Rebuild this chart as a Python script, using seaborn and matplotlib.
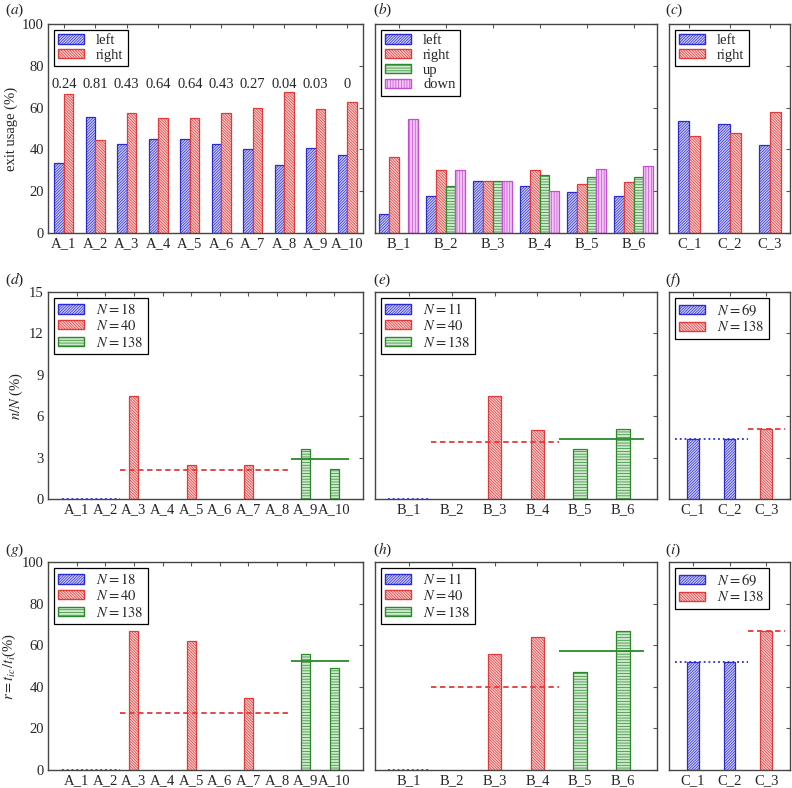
import numpy as np
import pandas as pd
import matplotlib
matplotlib.use('Agg')
import matplotlib.pyplot as plt
import seaborn as sns
from matplotlib.patches import Patch

sns.set_theme(style="white")
plt.rcParams['font.family'] = ['Liberation Serif', 'DejaVu Serif']
plt.rcParams['mathtext.fontset'] = 'stix'
plt.rcParams['hatch.linewidth'] = 0.5

# ---- data ----
cats_a = ['A_1', 'A_2', 'A_3', 'A_4', 'A_5', 'A_6', 'A_7', 'A_8', 'A_9', 'A_10']
cats_b = ['B_1', 'B_2', 'B_3', 'B_4', 'B_5', 'B_6']
cats_c = ['C_1', 'C_2', 'C_3']

# exit usage (%)
usage_a_left = [33.3, 55.6, 42.5, 45.0, 45.0, 42.5, 40.0, 32.5, 40.6, 37.5]
usage_a_right = [66.7, 44.4, 57.5, 55.0, 55.0, 57.5, 60.0, 67.5, 59.4, 62.5]
pvals_a = ['0.24', '0.81', '0.43', '0.64', '0.64', '0.43', '0.27', '0.04', '0.03', '0']

usage_b_left = [9.1, 17.6, 25.0, 22.4, 19.7, 17.6]
usage_b_right = [36.4, 30.1, 25.0, 30.1, 23.5, 24.2]
usage_b_up = [0.0, 22.4, 25.0, 27.7, 26.9, 26.9]
usage_b_down = [54.6, 30.1, 25.0, 20.0, 30.7, 32.0]

usage_c_left = [53.8, 52.3, 42.1]
usage_c_right = [46.2, 47.7, 57.9]

# group (crowd size) of every exit
groups_a = ['$N = 18$'] * 2 + ['$N = 40$'] * 6 + ['$N = 138$'] * 2
groups_b = ['$N = 11$'] + ['$N = 40$'] * 3 + ['$N = 138$'] * 2
groups_c = ['$N = 69$'] * 2 + ['$N = 138$']
levels_a = ['$N = 18$', '$N = 40$', '$N = 138$']
levels_b = ['$N = 11$', '$N = 40$', '$N = 138$']
levels_c = ['$N = 69$', '$N = 138$']

# n/N (%)
nN_a = [0, 0, 7.5, 0, 2.5, 0, 2.5, 0, 3.62, 2.17]
nN_b = [0, 0, 7.5, 5.0, 3.62, 5.07]
nN_c = [4.35, 4.35, 5.07]

# r = t_ic / t_i (%)
r_a = [0, 0, 66.7, 0, 61.8, 0, 34.8, 0, 55.8, 48.8]
r_b = [0, 0, 55.9, 64.0, 47.0, 67.0]
r_c = [51.7, 51.7, 66.9]

# ---- styles ----
STY = {
    'blue': dict(face='#cfcff6', edge='#2b2bd6', hatch='////////////', ls=':'),
    'red': dict(face='#f9d0d0', edge='#e23a3a', hatch='\\\\\\\\\\\\\\\\\\\\\\\\', ls='--'),
    'green': dict(face='#cfe8cf', edge='#2a8a2a', hatch='------', ls='-'),
    'magenta': dict(face='#f3c6f3', edge='#c24fd2', hatch='||||||', ls='-'),
}
FS = 10.5


def style_axes(ax, ylim, yticks, show_ylabels):
    ax.set_ylim(*ylim)
    ax.set_yticks(yticks)
    ax.tick_params(direction='in', top=True, right=True, length=3, width=0.8,
                   color='#555555', labelsize=FS, pad=3,
                   labelleft=show_ylabels)
    for s in ax.spines.values():
        s.set_color('#454545')
        s.set_linewidth(1.0)
    ax.set_xlabel('')
    ax.set_ylabel('')


def add_legend(ax, labels, colors):
    handles = [Patch(facecolor=STY[c]['face'], edgecolor=STY[c]['edge'],
                     hatch=STY[c]['hatch'], label=l) for l, c in zip(labels, colors)]
    leg = ax.legend(handles=handles, loc='upper left', fontsize=FS, frameon=True,
                    fancybox=False, edgecolor='black', framealpha=1,
                    handlelength=1.8, handleheight=0.6, borderpad=0.3,
                    labelspacing=0.12, borderaxespad=0.4, handletextpad=0.8)
    leg.get_frame().set_linewidth(0.9)


def paint(ax, colors):
    for cont, c in zip(ax.containers, colors):
        for p in cont:
            p.set_facecolor(STY[c]['face'])
            p.set_edgecolor(STY[c]['edge'])
            p.set_hatch(STY[c]['hatch'])
            p.set_linewidth(0.9)
            if p.get_height() == 0:
                p.set_visible(False)


def usage_panel(ax, cats, series, colors, width):
    frames = []
    for name, vals in series.items():
        frames.append(pd.DataFrame({'exit': cats, 'usage': vals, 'dir': name}))
    df = pd.concat(frames)
    sns.barplot(data=df, x='exit', y='usage', hue='dir', order=cats,
                hue_order=list(series.keys()), width=width, errorbar=None,
                ax=ax, legend=False, saturation=1)
    paint(ax, colors)
    add_legend(ax, list(series.keys()), colors)


def group_panel(ax, cats, vals, groups, levels, colors):
    df = pd.DataFrame({'exit': cats, 'val': vals, 'grp': groups})
    sns.barplot(data=df, x='exit', y='val', hue='grp', order=cats, hue_order=levels,
                dodge=False, width=0.32, errorbar=None, ax=ax, legend=False,
                saturation=1)
    paint(ax, colors)
    # mean line of each group over its exits
    for lvl, c in zip(levels, colors):
        idx = [i for i, g in enumerate(groups) if g == lvl]
        m = np.mean([vals[i] for i in idx])
        ls = STY[c]['ls']
        if ls == '--':
            ls = (0, (3, 2))
        ax.hlines(m, min(idx) - 0.5, max(idx) + 0.5, color=STY[c]['edge'],
                  ls=ls, lw=1.3, zorder=5)
    add_legend(ax, levels, colors)


# ---- figure ----
W, H = 792, 788
fig = plt.figure(figsize=(W / 100, H / 100), dpi=100)

cols = [(48, 363), (375, 657), (669, 790)]
rows = [(24, 233), (292, 499), (562, 770)]


def make_ax(r, c):
    x0, x1 = cols[c]
    y0, y1 = rows[r]
    return fig.add_axes([x0 / W, 1 - y1 / H, (x1 - x0) / W, (y1 - y0) / H])


axs = [[make_ax(r, c) for c in range(3)] for r in range(3)]

# row 1: exit usage
usage_panel(axs[0][0], cats_a, {'left': usage_a_left, 'right': usage_a_right},
            ['blue', 'red'], 0.6)
for i, t in enumerate(pvals_a):
    axs[0][0].text(i, 71, t, ha='center', va='center', fontsize=FS)
usage_panel(axs[0][1], cats_b, {'left': usage_b_left, 'right': usage_b_right,
                                'up': usage_b_up, 'down': usage_b_down},
            ['blue', 'red', 'green', 'magenta'], 0.85)
usage_panel(axs[0][2], cats_c, {'left': usage_c_left, 'right': usage_c_right},
            ['blue', 'red'], 0.55)

# row 2: n/N
group_panel(axs[1][0], cats_a, nN_a, groups_a, levels_a, ['blue', 'red', 'green'])
group_panel(axs[1][1], cats_b, nN_b, groups_b, levels_b, ['blue', 'red', 'green'])
group_panel(axs[1][2], cats_c, nN_c, groups_c, levels_c, ['blue', 'red'])

# row 3: r
group_panel(axs[2][0], cats_a, r_a, groups_a, levels_a, ['blue', 'red', 'green'])
group_panel(axs[2][1], cats_b, r_b, groups_b, levels_b, ['blue', 'red', 'green'])
group_panel(axs[2][2], cats_c, r_c, groups_c, levels_c, ['blue', 'red'])

row_lims = [((0, 100), [0, 20, 40, 60, 80, 100]),
            ((0, 15), [0, 3, 6, 9, 12, 15]),
            ((0, 100), [0, 20, 40, 60, 80, 100])]
for r in range(3):
    for c in range(3):
        style_axes(axs[r][c], row_lims[r][0], row_lims[r][1], c == 0)

axs[0][0].set_ylabel('exit usage (%)', fontsize=FS, labelpad=3)
axs[1][0].set_ylabel('$n/N$ (%)', fontsize=FS, labelpad=3)
axs[2][0].set_ylabel('$r = t_{ic}/t_i$(%)', fontsize=FS, labelpad=3)

letters = 'abcdefghi'
lx = [5, 373, 665]
ly = [10, 280, 550]
for r in range(3):
    for c in range(3):
        fig.text(lx[c] / W, 1 - ly[r] / H, '($%s$)' % letters[3 * r + c],
                 fontsize=FS + 0.5, va='center', ha='left')

fig.savefig('out.png', dpi=100)
